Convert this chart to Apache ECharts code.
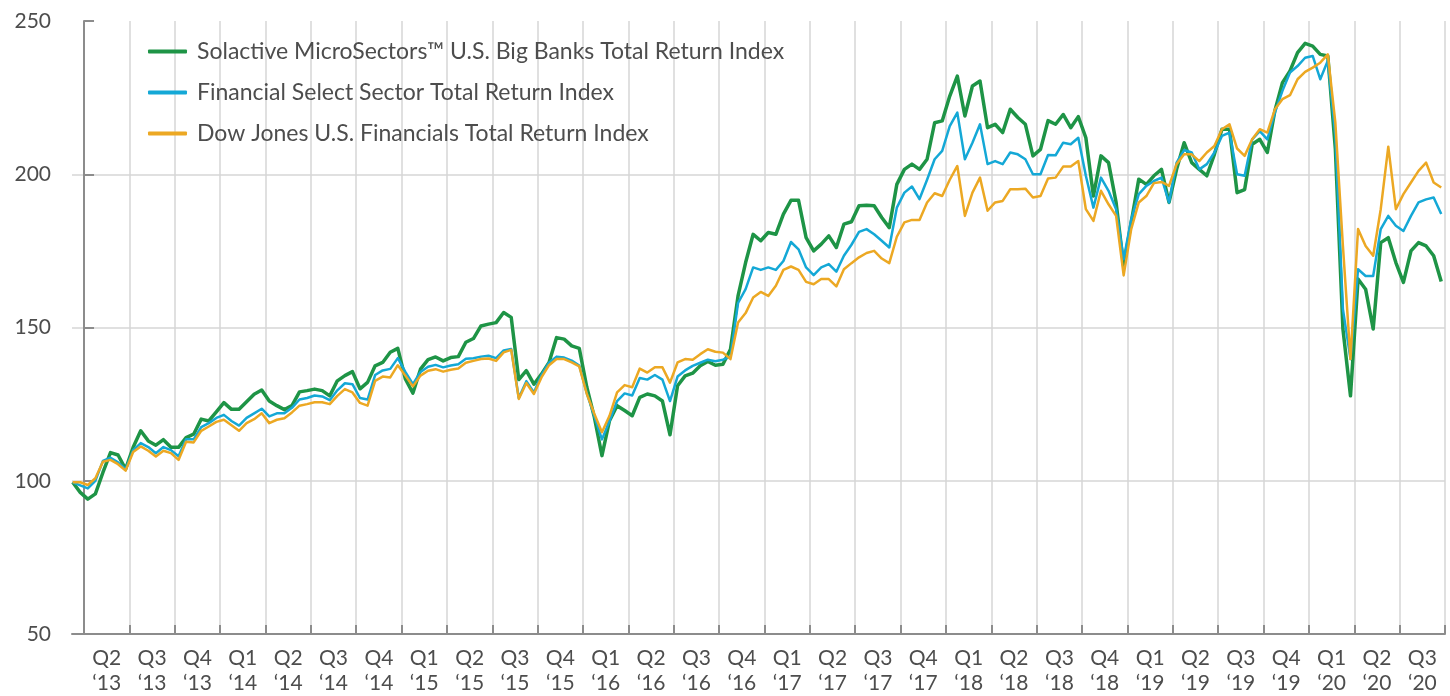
<!DOCTYPE html>
<html style="height: 100%">
<head>
    <meta charset="utf-8">
    <title>Big Banks vs Financials</title>
    <script src="https://cdn.jsdelivr.net/npm/echarts@6/dist/echarts.min.js"></script>
</head>
<body style="height: 100%; margin: 0; background: #fff">
    <div id="main" style="width: 1450px; height: 696px"></div>
    <script>
        // 半月采样，单位：季度（0 = 2013年4月1日）
        var sampleCount = 182;
        var t = [];
        for (var i = 0; i < sampleCount; i++) t.push(-0.25 + i / 6);

        var quarterLabels = [
            'Q2\n‘13', 'Q3\n‘13', 'Q4\n‘13', 'Q1\n‘14', 'Q2\n‘14', 'Q3\n‘14', 'Q4\n‘14', 'Q1\n‘15',
            'Q2\n‘15', 'Q3\n‘15', 'Q4\n‘15', 'Q1\n‘16', 'Q2\n‘16', 'Q3\n‘16', 'Q4\n‘16', 'Q1\n‘17',
            'Q2\n‘17', 'Q3\n‘17', 'Q4\n‘17', 'Q1\n‘18', 'Q2\n‘18', 'Q3\n‘18', 'Q4\n‘18', 'Q1\n‘19',
            'Q2\n‘19', 'Q3\n‘19', 'Q4\n‘19', 'Q1\n‘20', 'Q2\n‘20', 'Q3\n‘20'
        ];

        var seriesNames = [
            'Solactive MicroSectors™ U.S. Big Banks Total Return Index',
            'Financial Select Sector Total Return Index',
            'Dow Jones U.S. Financials Total Return Index'
        ];

        var bigBanks = [
            99.5, 96.2, 94, 95.7, 102.7, 109.2, 108.4, 103.8, 110.9, 116.3, 113, 111.6, 113.4, 110.9, 110.9, 114.1, 115.2, 120.1, 119.5, 122.5, 125.5, 123.3, 123.3, 125.8, 128.2, 129.6, 126,
            124.5, 123.2, 124.5, 129, 129.4, 129.9, 129.4, 127.7, 132.6, 134.3, 135.6, 130, 132.1, 137.5, 138.6, 141.9, 143.2, 133.2, 128.6, 136.4, 139.5, 140.4, 139.1, 140.2, 140.5, 145.2,
            146.4, 150.5, 151.1, 151.6, 154.9, 153.3, 133, 135.9, 131.5, 134.8, 138.6, 146.7, 146.2, 144, 143.2, 130.5, 120.7, 108.2, 119.6, 124.5, 122.9, 121.2, 127.2, 128.3, 127.7,
            126, 115, 131, 134.2, 135.1, 137.5, 138.9, 137.7, 138, 142.9, 160.3, 171.2, 180.4, 178.3, 181, 180.4, 187, 191.5, 191.5, 179.3, 175, 177.2, 179.9, 176.1, 183.7, 184.5,
            189.7, 189.9, 189.7, 185.9, 182.6, 196.7, 201.6, 203.3, 201.6, 204.9, 216.8, 217.4, 225.5, 232, 219, 228.8, 230.4, 215.2, 216.3, 213.6, 221.2, 218.5, 216.3, 206, 208.1, 217.5,
            216.3, 219.5, 215.2, 218.8, 211.9, 192.9, 206, 203.8, 190.8, 170, 184.3, 198.4, 196.7, 199.5, 201.6, 190.8, 201.6, 210.3, 203.8, 201.6, 199.5, 206.5, 214.7, 214.7, 194, 195,
            209.8, 211.4, 207.1, 220.7, 229.9, 233.7, 239.7, 242.7, 241.8, 239.1, 238.6, 208.2, 149.5, 127.7, 165.8, 162.5, 149.5, 177.7, 179.3, 171.2, 164.7, 175, 177.7, 176.6, 173.4, 165
        ];

        var selectSector = [
            99.5, 98.5, 97.5, 100, 106.5, 107.5, 106, 103.8, 110, 112.3, 111, 109, 111, 110, 108, 113.5, 113.5, 117.5, 118.8, 120.5, 121.5, 119.5, 118, 120.5, 122, 123.5, 121,
            122, 122, 123.8, 126.5, 127, 127.8, 127.5, 126.3, 129.5, 131.8, 131.5, 127, 126.5, 134.5, 136, 136.5, 140, 135.5, 131.5, 135.5, 137.2, 137.8, 137, 137.6, 138, 139.8,
            140, 140.5, 140.8, 140, 142.5, 143, 127, 132.5, 128.8, 134.5, 138.5, 140.5, 140.2, 139.2, 137.6, 128.5, 121, 113.5, 119.5, 126, 128.5, 127.8, 133.5, 133, 134.5,
            133, 126, 134, 136, 137.5, 138.5, 139.5, 139, 139.5, 140.5, 158, 162.5, 169.6, 168.8, 169.6, 168.8, 171.7, 177.9, 175.5, 169.6, 167.1, 169.6, 170.7, 168.2, 173.4, 177,
            181.2, 182.1, 180.4, 178.3, 176.1, 189.1, 194, 196, 191.9, 198.2, 204.9, 207.6, 215.7, 220.1, 204.9, 210.3, 216.3, 203.3, 204.3, 203.3, 207.1, 206.5, 204.9, 200, 200, 206.3,
            206.2, 210.3, 209.8, 211.9, 199.5, 189.1, 198.9, 194.6, 188.6, 172.3, 185.3, 193.5, 196.2, 197.8, 198.9, 190.8, 203.8, 207.9, 207.1, 201.6, 203.3, 207.1, 212.5, 213.6, 200, 199.5,
            211.4, 214.1, 211.4, 220.1, 227.2, 233.2, 235.3, 238, 238.6, 231, 237, 212.5, 156, 139.7, 169, 166.8, 166.8, 182.1, 186.4, 183.2, 181.5, 186.4, 190.8, 191.8, 192.4, 187
        ];

        var dowJones = [
            99.5, 99.5, 98.6, 100.8, 106.2, 106.8, 105.4, 103.3, 109.4, 111.2, 109.8, 107.9, 109.8, 109, 106.8, 112.7, 112.5, 116.3, 117.7, 119.2, 119.9, 118.1, 116.3, 118.8, 120.1, 122, 118.8,
            119.9, 120.4, 122.3, 124.5, 125, 125.6, 125.6, 125, 127.7, 129.9, 128.8, 125.4, 124.5, 132.6, 134, 133.7, 137.7, 134.3, 130.8, 134.3, 135.9, 136.4, 135.6, 136.2, 136.6, 138.5,
            139.1, 139.7, 139.9, 139.1, 141.9, 142.7, 126.7, 131.9, 128.3, 133.7, 137.7, 139.7, 139.7, 138.6, 137.3, 128.3, 121.8, 115.8, 121.2, 128.8, 131.2, 130.5, 136.6, 135.3, 137,
            137, 132, 138.6, 139.7, 139.5, 141.3, 142.9, 142.1, 141.8, 139.7, 151.6, 154.7, 159.8, 161.6, 160.3, 163.6, 168.8, 169.9, 168.8, 164.9, 164.1, 165.8, 165.8, 163.4, 169, 171,
            172.9, 174.3, 175, 172.5, 171, 179.6, 184.3, 185.1, 185.1, 190.8, 193.8, 192.9, 198.2, 202.7, 186.4, 194, 198.9, 188.1, 190.8, 191.3, 195.1, 195.1, 195.3, 192.4, 192.9, 198.6,
            198.9, 202.5, 202.5, 204.3, 188.6, 184.8, 194.6, 190.2, 186.4, 167, 182.1, 190.8, 192.9, 197.1, 197.5, 196.2, 203.3, 206.5, 206.5, 204.3, 207.1, 209.2, 214.7, 216.3, 208.4, 206,
            211.4, 214.7, 213.6, 221.2, 224.5, 225.8, 231, 233.4, 234.8, 236.4, 239.1, 216.8, 176.6, 139.7, 182.1, 176.6, 173.4, 188.6, 209, 188.6, 193.5, 197.3, 201.1, 203.8, 197.3, 195.7
        ];

        var colors = ['#1e9446', '#14a8d6', '#eca823'];
        var widths = [3.5, 2.5, 2.5];

        var tickVals = [];
        for (var q = 0; q <= 30; q++) tickVals.push(q);
        var labelVals = [];
        for (var q2 = 0; q2 < 30; q2++) labelVals.push(q2 + 0.5);

        function pairs(vals) {
            return vals.map(function (v, i) { return [t[i], v]; });
        }

        var axisGray = '#8c8c8c';
        var gridGray = '#d6d6d6';
        var textGray = '#4d4d4d';
        var font = 'Lato, "Noto Sans", sans-serif';

        var myChart = echarts.init(document.getElementById('main'));
        myChart.setOption({
            animation: false,
            color: colors,
            grid: { left: 72, right: 5, top: 21, bottom: 61, containLabel: false },
            legend: {
                orient: 'vertical',
                left: 143,
                top: 35,
                icon: 'roundRect',
                itemWidth: 39,
                itemHeight: 4,
                itemGap: 18,
                textStyle: { fontSize: 23, color: textGray, fontFamily: font, padding: [0, 0, 0, 5] },
                data: seriesNames
            },
            xAxis: {
                type: 'value',
                min: -0.265,
                max: 30,
                axisLine: { show: true, lineStyle: { color: axisGray, width: 2 } },
                axisTick: { show: true, inside: true, length: 9, customValues: tickVals, lineStyle: { color: axisGray, width: 2 } },
                axisLabel: {
                    customValues: labelVals,
                    formatter: function (v) { return quarterLabels[Math.floor(v)]; },
                    fontSize: 21, lineHeight: 25, color: textGray, fontFamily: font, margin: 12
                },
                splitLine: { show: true, lineStyle: { color: gridGray, width: 1.5 } }
            },
            yAxis: {
                type: 'value',
                min: 50,
                max: 250,
                interval: 50,
                axisLine: { show: true, lineStyle: { color: axisGray, width: 2 } },
                axisTick: { show: true, inside: true, length: 10, lineStyle: { color: axisGray, width: 2 } },
                axisLabel: { fontSize: 21, color: textGray, fontFamily: font, margin: 21 },
                splitLine: { show: true, lineStyle: { color: [gridGray, gridGray, gridGray, gridGray, 'rgba(0,0,0,0)'], width: 1.5 } }
            },
            series: [bigBanks, selectSector, dowJones].map(function (vals, i) {
                return {
                    name: seriesNames[i],
                    type: 'line',
                    showSymbol: false,
                    data: pairs(vals),
                    lineStyle: { width: widths[i], color: colors[i], join: 'round' },
                    itemStyle: { color: colors[i] }
                };
            })
        });
    </script>
</body>
</html>
